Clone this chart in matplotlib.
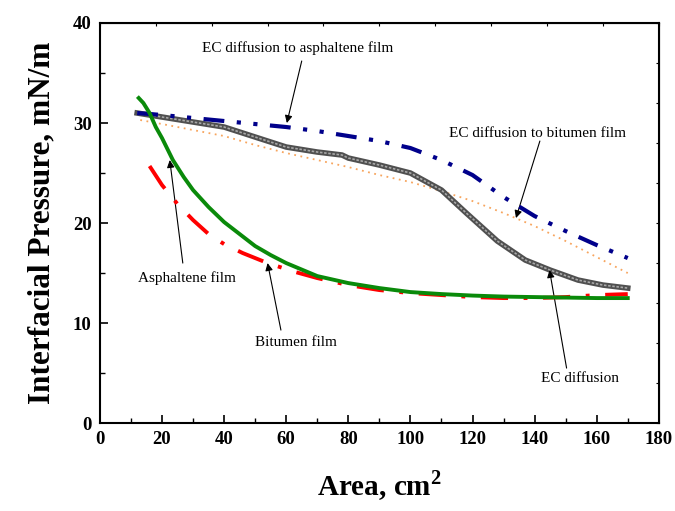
import numpy as np
import matplotlib.pyplot as plt
from matplotlib.ticker import MultipleLocator

plt.rcParams['font.family'] = ['Liberation Serif', 'DejaVu Serif']
plt.rcParams['mathtext.fontset'] = 'custom'
plt.rcParams['mathtext.rm'] = 'Liberation Serif'
plt.rcParams['mathtext.bf'] = 'Liberation Serif:bold'

# --- data ---
# EC diffusion to asphaltene film (navy dash-dot-dot)
x_ec_asph = [12, 20, 30, 40, 50, 60, 70, 80, 90, 100, 110, 120, 130, 140, 150, 160, 170]
y_ec_asph = [31.0, 30.8, 30.5, 30.2, 29.9, 29.6, 29.2, 28.7, 28.2, 27.5, 26.3, 24.8,
             22.6, 20.7, 19.2, 17.8, 16.5]

# EC diffusion (grey, thick)
x_ec = [12, 20, 30, 40, 50, 60, 70, 78, 80, 90, 100, 110, 118, 128, 137, 145, 154, 162, 170]
y_ec = [31.0, 30.6, 30.1, 29.6, 28.6, 27.6, 27.1, 26.8, 26.5, 25.8, 25.0, 23.3, 21.0,
        18.2, 16.3, 15.3, 14.3, 13.8, 13.5]

# EC diffusion to bitumen film (light orange dotted)
x_ec_bit = [13, 20, 30, 40, 50, 60, 70, 80, 90, 100, 110, 120, 130, 140, 150, 160, 170]
y_ec_bit = [30.3, 29.9, 29.3, 28.7, 27.8, 27.0, 26.3, 25.6, 24.8, 24.1, 23.2, 22.2,
            21.0, 19.7, 18.2, 16.6, 15.0]

# Bitumen film (green solid)
x_bit = [12.5, 14, 16, 18, 20, 23.5, 27, 30, 35, 40, 45, 50, 55, 60, 70, 80, 90, 100,
         110, 120, 130, 140, 150, 160, 170]
y_bit = [32.5, 32.0, 31.0, 29.6, 28.5, 26.3, 24.6, 23.3, 21.6, 20.1, 18.9, 17.7, 16.8,
         16.0, 14.7, 14.0, 13.5, 13.1, 12.9, 12.75, 12.65, 12.6, 12.55, 12.5, 12.5]

# Asphaltene film (red dash-dot)
x_asph = [16, 20, 25, 30, 35, 40, 46, 54, 63, 70, 80, 90, 100, 110, 120, 130, 140, 150, 160, 170]
y_asph = [25.7, 23.8, 21.9, 20.3, 18.9, 17.9, 17.0, 16.0, 15.1, 14.5, 13.8, 13.3, 13.0,
          12.8, 12.6, 12.5, 12.5, 12.6, 12.8, 12.9]

fig = plt.figure(figsize=(6.75, 5.11), dpi=100)
ax = fig.add_axes([0.148, 0.172, 0.828, 0.783])

ax.plot(x_ec_bit, y_ec_bit, color='#F7A55E', lw=1.3, ls=(0, (1, 2.5)), zorder=2)
ax.plot(x_ec, y_ec, color='#505050', lw=4.0, zorder=3)
ax.plot(x_ec, y_ec, color='#a8a8a8', lw=1.2, ls=(0, (1.5, 1)), zorder=3)
ax.plot(x_ec_asph, y_ec_asph, color='#00008B', lw=3,
        ls=(0, (5, 3, 1, 3, 1, 3)), zorder=4)
ax.plot(x_asph, y_asph, color='red', lw=2.8, ls=(0, (7, 4, 1, 4)), zorder=4)
ax.plot(x_bit, y_bit, color='#0A8A0A', lw=2.8, zorder=5)

ax.set_xlim(0, 180)
ax.set_ylim(0, 40)
ax.xaxis.set_major_locator(MultipleLocator(20))
ax.xaxis.set_minor_locator(MultipleLocator(10))
ax.yaxis.set_major_locator(MultipleLocator(10))
ax.yaxis.set_minor_locator(MultipleLocator(5))
ax.tick_params(which='major', direction='in', length=6, width=1.2,
               labelsize=13.5, pad=6)
ax.tick_params(which='minor', direction='in', length=3.5, width=1.0)
for lab in ax.get_xticklabels() + ax.get_yticklabels():
    lab.set_fontweight('bold')
for s in ax.spines.values():
    s.set_linewidth(1.5)

# tiny ticks on the top and right frame
top = ax.secondary_xaxis('top')
top.xaxis.set_major_locator(MultipleLocator(18))
top.tick_params(direction='in', length=2, width=0.8, labeltop=False)
right = ax.secondary_yaxis('right')
right.yaxis.set_major_locator(MultipleLocator(4))
right.tick_params(direction='in', length=2, width=0.8, labelright=False)

ax.set_xlabel(r'Area, cm$^{\mathbf{2}}$', fontsize=21, fontweight='bold', labelpad=14)
ax.set_ylabel('Interfacial Pressure, mN/m', fontsize=22.5, fontweight='bold', labelpad=12)

arrow = dict(arrowstyle='-|>', color='black', lw=0.8, mutation_scale=11,
             shrinkA=0, shrinkB=0)
notes = [
    ('EC diffusion to asphaltene film', (63.7, 37.5), (65, 36.2), (60.2, 30.0)),
    ('EC diffusion to bitumen film', (141, 29.0), (141.7, 28.2), (134, 20.5)),
    ('Asphaltene film', (28, 14.5), (26.7, 16.0), (22.5, 26.3)),
    ('Bitumen film', (63, 8.1), (58.3, 9.3), (54, 16.0)),
    ('EC diffusion', (154.5, 4.5), (150.3, 5.5), (144.8, 15.3)),
]
for text, pos, start, tip in notes:
    ax.text(pos[0], pos[1], text, fontsize=11, ha='center', va='center')
    ax.annotate('', xy=tip, xytext=start, arrowprops=arrow)

fig.savefig('out.png', dpi=100)
